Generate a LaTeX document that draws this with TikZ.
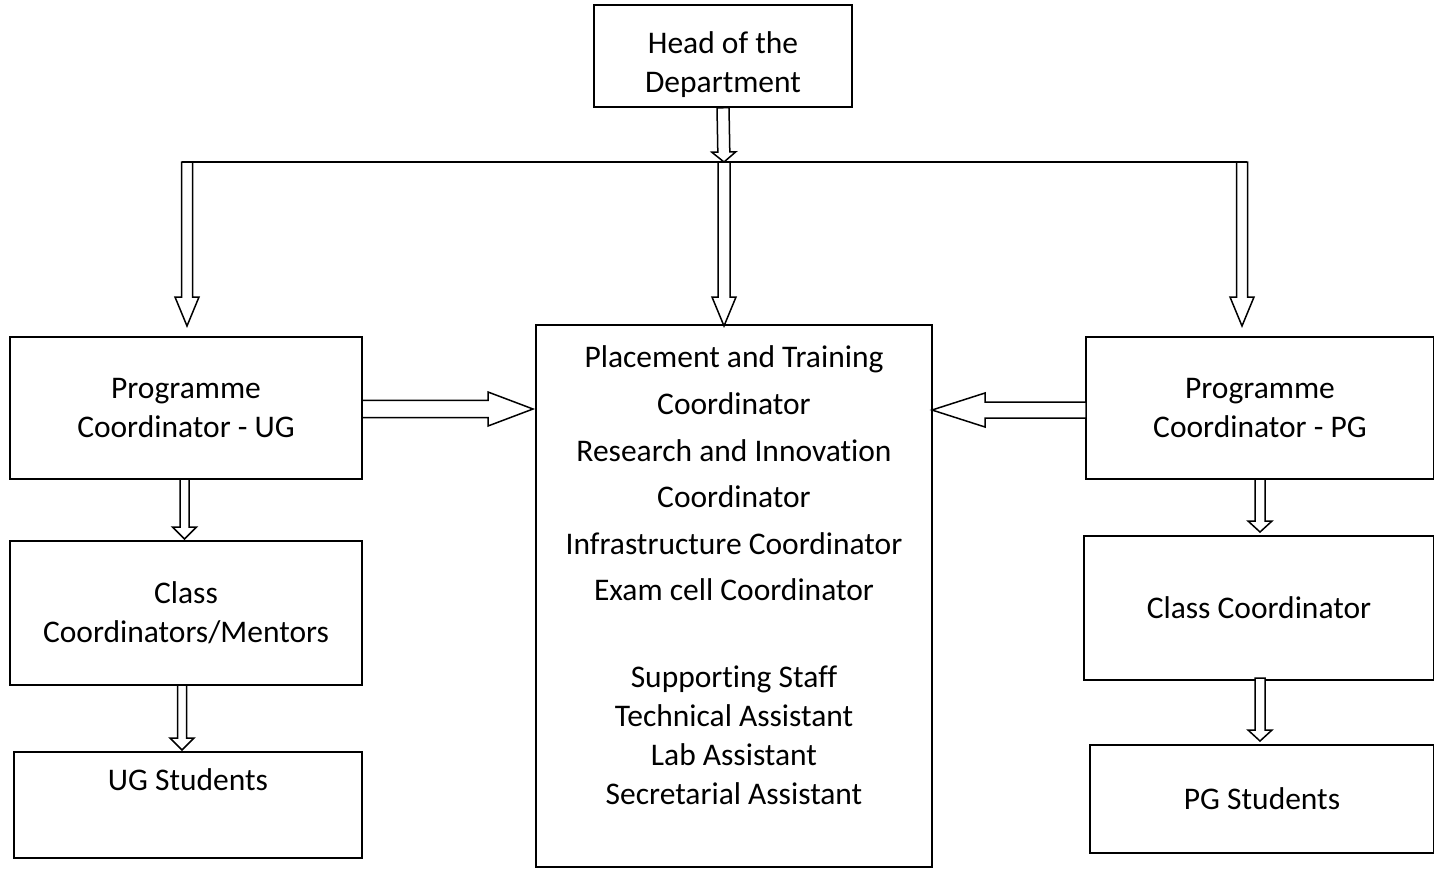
\documentclass[tikz,border=0pt]{standalone}
\usepackage{fontspec}
\setmainfont{Carlito}[Ligatures=NoCommon]
\usetikzlibrary{calc}
\tikzset{
  box/.style={draw, line width=1.5pt, inner sep=0pt, align=center},
  blk/.style={draw, line width=1.5pt, fill=white, line join=miter},
}
% block arrow: from, to, shaft half width, head half width, head length
\newcommand{\blockarr}[5]{%
  \coordinate (ba) at ($(#2)!#5!(#1)$);
  \draw[blk] ($(#1)!#3!90:(#2)$) -- ($(ba)!#3!-90:(#1)$) -- ($(ba)!#4!-90:(#1)$)
    -- (#2) -- ($(ba)!#4!90:(#1)$) -- ($(ba)!#3!90:(#1)$) -- ($(#1)!#3!-90:(#2)$) -- cycle;}
\begin{document}
\begin{tikzpicture}[x=1pt,y=-1pt,font=\fontsize{31.5}{39}\selectfont]
\useasboundingbox (0,0) rectangle (1434,868);
\node[box, minimum width=258, minimum height=102] (head) at (723,56) {};
\node[align=center] (headtxt) at (723,65) {Head of the\\Department};
\node[box, minimum width=352, minimum height=142] (ug) at (186,408) {Programme\\Coordinator - UG};
\node[box, minimum width=396, minimum height=542] (center) at (734,596) {};
\node[box, minimum width=348, minimum height=142] (pg) at (1260,408) {Programme\\Coordinator - PG};
\node[box, minimum width=352, minimum height=144] (ugclass) at (186,613) {Class\\Coordinators/Mentors};
\node[box, minimum width=348, minimum height=106] (ugstud) at (188,805) {UG Students\\\strut};
\node[box, minimum width=350, minimum height=144] (pgclass) at (1259,608) {Class Coordinator};
\node[box, minimum width=344, minimum height=108] (pgstud) at (1262,799) {PG Students};
\node[align=center, font=\fontsize{31.5}{46.6}\selectfont] (ctop) at (734,473.5)
  {Placement and Training\\Coordinator\\Research and Innovation\\Coordinator\\Infrastructure Coordinator\\Exam cell Coordinator};
\node[align=center] (cbot) at (734,735.5)
  {Supporting Staff\\Technical Assistant\\Lab Assistant\\Secretarial Assistant};
% top distribution
\coordinate (hl) at (182,162);
\coordinate (hr) at (1247,162);
\coordinate (jn) at (724,162);
\coordinate (lt) at (187,162);
\coordinate (lb) at (187,326);
\coordinate (ct) at (724,162);
\coordinate (cb) at (724,326);
\coordinate (rt) at (1242,162);
\coordinate (rb) at (1242,326);
\draw[line width=1.5pt] (hl) -- (hr);
\blockarr{head.south}{jn}{6pt}{12pt}{10pt}
\blockarr{lt}{lb}{5.5pt}{12pt}{29pt}
\blockarr{ct}{cb}{6pt}{12pt}{29pt}
\blockarr{rt}{rb}{5.5pt}{12pt}{29pt}
% side arrows
\coordinate (ul) at (362,409);
\coordinate (ur) at (533,409);
\coordinate (pl) at (932,410);
\coordinate (pr) at (1086,410);
\blockarr{ul}{ur}{8.7pt}{17pt}{45pt}
\blockarr{pr}{pl}{8pt}{17pt}{53pt}
% down arrows
\coordinate (u1) at (184.5,479);
\coordinate (u2) at (184.5,539);
\coordinate (u3) at (182,685);
\coordinate (u4) at (182,750);
\coordinate (p1) at (1260,479);
\coordinate (p2) at (1260,532);
\coordinate (p3) at (1260,678);
\coordinate (p4) at (1260,741);
\blockarr{u1}{u2}{4.5pt}{12pt}{12pt}
\blockarr{u3}{u4}{4.5pt}{12pt}{12pt}
\blockarr{p1}{p2}{5pt}{12pt}{11pt}
\blockarr{p3}{p4}{5pt}{12pt}{11pt}
\end{tikzpicture}
\end{document}
